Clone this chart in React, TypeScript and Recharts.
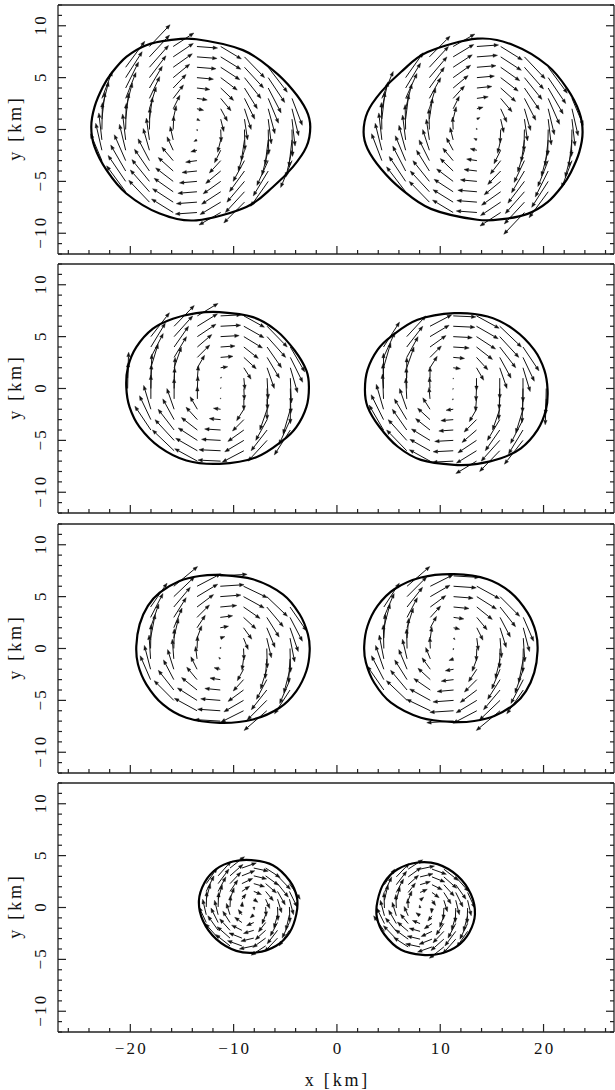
import React from "react";
import { ComposedChart, Scatter, XAxis, YAxis } from "recharts";

// axis setup
const xDomain = [-27, 26.82];
const yDomain = [-12, 12];
const xTicks = [-26, -24, -22, -20, -18, -16, -14, -12, -10, -8, -6, -4, -2, 0, 2, 4, 6, 8, 10, 12, 14, 16, 18, 20, 22, 24, 26];
const yTicks = [-12, -11, -10, -9, -8, -7, -6, -5, -4, -3, -2, -1, 0, 1, 2, 3, 4, 5, 6, 7, 8, 9, 10, 11, 12];
const xMajor = [-20, -10, 0, 10, 20];
const yMajor = [-10, -5, 0, 5, 10];

// outlines of the left star in each panel (the right star is the same turned by 180 deg)
const contour1 = [
  [-13.6, 8.7], [-9.1, 7.65], [-6.2, 5.72], [-4.26, 3.79], [-2.96, 1.86], [-2.58, 0.25],
  [-2.96, -1.68], [-4.26, -3.6], [-6.2, -5.54], [-8.77, -7.46], [-13.6, -8.75], [-17.16, -8.1],
  [-20.39, -6.17], [-22.3, -3.92], [-23.46, -1.68], [-23.78, 0.25], [-23.46, 2.18], [-22.65, 4.11],
  [-21.84, 5.4], [-20.39, 7.0], [-18.45, 8.13], [-16.2, 8.61],
];
const contour2 = [
  [-11.36, 7.36], [-8.13, 6.88], [-5.87, 5.59], [-4.09, 3.66], [-2.96, 1.74], [-2.71, 0.13],
  [-2.96, -1.8], [-3.93, -3.73], [-5.23, -5.01], [-7.8, -6.62], [-11.36, -7.26], [-14.58, -6.94],
  [-17.16, -5.66], [-19.1, -3.73], [-20.07, -1.8], [-20.39, 0.13], [-20.23, 2.05], [-19.42, 3.98],
  [-17.81, 5.76], [-15.88, 6.72], [-13.61, 7.26],
];
const contour3 = [
  [-11.36, 7.09], [-8.13, 6.67], [-5.23, 5.22], [-3.61, 3.3], [-2.81, 1.37], [-2.64, -0.24],
  [-2.96, -2.17], [-3.93, -4.1], [-5.55, -5.71], [-8.13, -6.84], [-11.36, -7.16], [-14.58, -6.68],
  [-16.84, -5.39], [-18.45, -3.45], [-19.26, -1.52], [-19.42, 0.24], [-19.1, 2.33], [-18.3, 4.1],
  [-17.16, 5.38], [-15.23, 6.51], [-13.29, 6.99],
];
const contour4 = [
  [-8.29, 4.57], [-6.2, 4.08], [-4.58, 2.58], [-3.87, 0.96], [-3.93, -0.64], [-4.58, -2.41],
  [-5.87, -3.69], [-7.8, -4.34], [-9.74, -4.18], [-11.68, -3.05], [-12.97, -1.28], [-13.36, 0.65],
  [-12.81, 2.41], [-11.68, 3.7], [-10.07, 4.43],
];

// velocity arrows of the left star: grid columns / rows, x-part per row, y-part per column (km)
const cols1 = [-22.75, -20.45, -18.15, -15.85, -13.55, -11.25, -8.95, -6.65, -4.35];
const colV1 = [2.6, 2.5, 2.1, 1.3, -0.15, -1.2, -2.0, -2.4, -2.6];
const rows1 = [8, 7, 6, 5, 4, 3, 2, 1, 0, -1, -2, -3, -4, -5, -6, -7, -8];
const rowU1 = [2.0, 1.95, 1.85, 1.6, 1.25, 1.0, 0.65, 0.3, 0.05, -0.3, -0.6, -1.1, -1.45, -1.7, -1.85, -2.0, -2.1];

const cols2 = [-20.26, -18.01, -15.76, -13.51, -11.26, -9.01, -6.76, -4.51, -2.26];
const colV2 = [2.5, 2.3, 2.0, 1.2, 0.1, -1.1, -2.0, -2.4, -2.5];
const rows2 = [7, 6, 5, 4, 3, 2, 1, 0, -1, -2, -3, -4, -5, -6, -7];
const rowU2 = [2.0, 1.95, 1.8, 1.4, 1.2, 0.7, 0.1, 0.05, 0.0, -0.7, -1.1, -1.55, -1.85, -2.1, -2.2];

const cols3 = [-20.29, -18.04, -15.79, -13.54, -11.29, -9.04, -6.79, -4.54, -2.29];
const colV3 = [2.4, 2.3, 1.9, 1.2, 0.15, -1.1, -1.9, -2.3, -2.5];
const rows3 = [7, 6, 5, 4, 3, 2, 1, 0, -1, -2, -3, -4, -5, -6, -7];
const rowU3 = [2.6, 2.3, 2.0, 1.6, 1.2, 0.8, 0.45, 0.05, -0.15, -0.6, -1.0, -1.5, -1.9, -2.2, -2.5];

const cols4 = [-12.65, -11.5, -10.35, -9.2, -8.05, -6.9, -5.75, -4.6];
const colV4 = [1.5, 1.4, 1.1, 0.5, -0.3, -0.9, -1.3, -1.5];
const rows4 = [3.8, 3.05, 2.3, 1.55, 0.8, 0.05, -0.7, -1.45, -2.2, -2.95, -3.7];
const rowU4 = [1.4, 1.25, 1.05, 0.75, 0.4, 0.05, -0.35, -0.7, -1.0, -1.25, -1.4];

type P = { x: number; y: number };

const inside = (x: number, y: number, poly: number[][]) => {
  let c = false;
  for (let i = 0, j = poly.length - 1; i < poly.length; j = i++) {
    const [xi, yi] = poly[i];
    const [xj, yj] = poly[j];
    if (yi > y !== yj > y && x < ((xj - xi) * (y - yi)) / (yj - yi) + xi) c = !c;
  }
  return c;
};

const outline = (poly: number[][], flip: boolean): P[] =>
  poly.map(([x, y]) => (flip ? { x: -x, y: -y } : { x, y }));

const arrowPoints = (
  cols: number[], colV: number[], rows: number[], rowU: number[], poly: number[][], flip: boolean
): P[] => {
  const out: P[] = [];
  rows.forEach((y, i) =>
    cols.forEach((x, j) => {
      if (!inside(x, y, poly)) return;
      out.push({ x, y }, { x: x + rowU[i], y: y + colV[j] });
    })
  );
  return flip ? out.map((p) => ({ x: -p.x, y: -p.y })) : out;
};

const smoothClosed = (pts: P[]) => {
  const n = pts.length;
  let d = `M${pts[0].x},${pts[0].y}`;
  for (let i = 0; i < n; i++) {
    const p0 = pts[(i - 1 + n) % n];
    const p1 = pts[i];
    const p2 = pts[(i + 1) % n];
    const p3 = pts[(i + 2) % n];
    d += `C${p1.x + (p2.x - p0.x) / 6},${p1.y + (p2.y - p0.y) / 6} ${p2.x - (p3.x - p1.x) / 6},${p2.y - (p3.y - p1.y) / 6} ${p2.x},${p2.y}`;
  }
  return d + "Z";
};

const ContourLine = (props: any) => (
  <path d={smoothClosed(props.points)} fill="none" stroke="#000" strokeWidth={2.2} />
);

const ArrowLines = (props: any) => {
  const pts: P[] = props.points;
  let shafts = "";
  let heads = "";
  for (let i = 0; i + 1 < pts.length; i += 2) {
    const a = pts[i];
    const b = pts[i + 1];
    const dx = b.x - a.x;
    const dy = b.y - a.y;
    const len = Math.hypot(dx, dy);
    if (len < 0.5) continue;
    const ux = dx / len;
    const uy = dy / len;
    const h = Math.min(4.5, len * 0.9);
    const w = h * 0.38;
    const bx = b.x - ux * h;
    const by = b.y - uy * h;
    shafts += `M${a.x},${a.y}L${bx},${by}`;
    heads += `M${b.x},${b.y}L${bx - uy * w},${by + ux * w}L${bx + uy * w},${by - ux * w}Z`;
  }
  return (
    <g>
      <path d={shafts} stroke="#111" strokeWidth={1} fill="none" />
      <path d={heads} fill="#111" stroke="#111" strokeWidth={0.4} />
    </g>
  );
};

const none = () => <g />;
const font = "'Liberation Serif', 'DejaVu Serif', serif";
const ink = "#222";
const tickFont = { fontFamily: font, fontSize: 17, letterSpacing: 2.2, fill: "#111" };
const titleFont = { fontFamily: font, fontSize: 18, letterSpacing: 2.8, fill: "#111" };

const minus = (v: number) => (v < 0 ? `\u2212${-v}` : `${v}`);

const makeXTick = (side: "bottom" | "top", labels: boolean) => (p: any) => {
  const v = p.payload.value;
  const major = xMajor.includes(v);
  const len = major ? 8 : 4;
  const dir = side === "bottom" ? -1 : 1;
  return (
    <g>
      <line x1={p.x} x2={p.x} y1={p.y} y2={p.y + dir * len} stroke={ink} strokeWidth={1.2} />
      {labels && major && (
        <text x={p.x + 1.1} y={p.y + 22} textAnchor="middle" {...tickFont}>
          {minus(v)}
        </text>
      )}
    </g>
  );
};

const makeYTick = (side: "left" | "right") => (p: any) => {
  const v = p.payload.value;
  const major = yMajor.includes(v);
  const len = major ? 8 : 4;
  const dir = side === "left" ? 1 : -1;
  const lx = p.x - 11.5;
  const ly = p.y - 1.1;
  return (
    <g>
      <line x1={p.x} x2={p.x + dir * len} y1={p.y} y2={p.y} stroke={ink} strokeWidth={1.2} />
      {side === "left" && major && (
        <text x={lx} y={ly} textAnchor="middle" {...tickFont} transform={`rotate(-90, ${lx}, ${ly})`}>
          {minus(v)}
        </text>
      )}
    </g>
  );
};

const yTitle = (p: any) => {
  const vb = p.viewBox;
  const x = vb.x - 35.5;
  const y = vb.y + vb.height / 2 - 1.4;
  return (
    <text x={x} y={y} textAnchor="middle" {...titleFont} transform={`rotate(-90, ${x}, ${y})`}>
      y [km]
    </text>
  );
};

const xTitle = (p: any) => {
  const vb = p.viewBox;
  return (
    <text x={vb.x + vb.width / 2 + 1.4} y={vb.y + 54} textAnchor="middle" {...titleFont}>
      x [km]
    </text>
  );
};

const panels = [
  { top: 0.3, contour: contour1, cols: cols1, colV: colV1, rows: rows1, rowU: rowU1 },
  { top: 259.4, contour: contour2, cols: cols2, colV: colV2, rows: rows2, rowU: rowU2 },
  { top: 518.5, contour: contour3, cols: cols3, colV: colV3, rows: rows3, rowU: rowU3 },
  { top: 777.6, contour: contour4, cols: cols4, colV: colV4, rows: rows4, rowU: rowU4 },
];

// axes are 1px thick boxes, so margins are 1px smaller than the frame offsets
const Panel = ({ cfg, last }: { cfg: (typeof panels)[number]; last: boolean }) => {
  const bottom = last ? 59 : 4;
  return (
    <div style={{ position: "absolute", left: 0, top: cfg.top }}>
      <ComposedChart width={615} height={255 + bottom} margin={{ top: 4, right: 0, bottom, left: 57 }}>
        <XAxis
          type="number" dataKey="x" domain={xDomain} allowDataOverflow ticks={xTicks} interval={0}
          height={1} tickSize={0} tickMargin={0} tickLine={false}
          axisLine={{ stroke: ink, strokeWidth: 1.3 }} tick={makeXTick("bottom", last)}
          label={last ? { content: xTitle } : undefined}
        />
        <XAxis
          xAxisId="top" orientation="top" type="number" domain={xDomain} allowDataOverflow ticks={xTicks}
          interval={0} height={1} tickSize={0} tickMargin={0} tickLine={false}
          axisLine={{ stroke: ink, strokeWidth: 1.3 }} tick={makeXTick("top", false)}
        />
        <YAxis
          type="number" dataKey="y" domain={yDomain} allowDataOverflow ticks={yTicks} interval={0}
          width={1} tickSize={0} tickMargin={0} tickLine={false}
          axisLine={{ stroke: ink, strokeWidth: 1.3 }} tick={makeYTick("left")}
          label={{ content: yTitle }}
        />
        <YAxis
          yAxisId="right" orientation="right" type="number" domain={yDomain} allowDataOverflow ticks={yTicks}
          interval={0} width={1} tickSize={0} tickMargin={0} tickLine={false}
          axisLine={{ stroke: ink, strokeWidth: 1.3 }} tick={makeYTick("right")}
        />
        {[false, true].map((flip) => (
          <Scatter
            key={`a${flip}`}
            data={arrowPoints(cfg.cols, cfg.colV, cfg.rows, cfg.rowU, cfg.contour, flip)}
            shape={none} line={ArrowLines} lineType="joint" isAnimationActive={false}
          />
        ))}
        {[false, true].map((flip) => (
          <Scatter
            key={`c${flip}`}
            data={outline(cfg.contour, flip)}
            shape={none} line={ContourLine} lineType="joint" isAnimationActive={false}
          />
        ))}
      </ComposedChart>
    </div>
  );
};

export default function App() {
  return (
    <div style={{ position: "absolute", left: 0, top: 0, width: 615, height: 1090, background: "#fff" }}>
      {panels.map((cfg, i) => (
        <Panel key={i} cfg={cfg} last={i === panels.length - 1} />
      ))}
    </div>
  );
}
